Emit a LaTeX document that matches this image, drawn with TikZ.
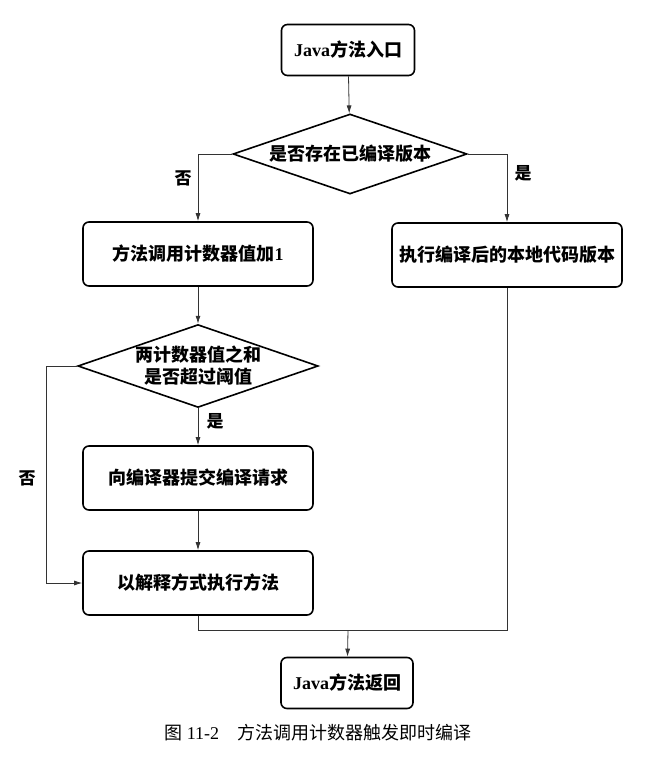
\documentclass[tikz,border=0pt]{standalone}
\usepackage{fontspec}
\setmainfont{Liberation Serif}
\newfontfamily\cjk{Noto Sans CJK SC}
\usetikzlibrary{shapes.geometric,arrows.meta}

\begin{document}
\begin{tikzpicture}[x=1pt,y=-1pt,font=\cjk\bfseries\fontsize{18}{22}\selectfont,>={Latex[length=8pt,width=5pt]},
	box/.style={draw,line width=1.6pt,rounded corners=6pt,minimum width=230pt,minimum height=64pt,inner sep=0pt},
	smallbox/.style={box,minimum width=133pt,minimum height=51pt},
	decision/.style={draw,diamond,line width=1.6pt,minimum width=234pt,minimum height=80pt,inner sep=0pt,aspect=2.9,align=center},
	link/.style={->,line width=0.8pt,draw=black!80},
	lbl/.style={font=\cjk\bfseries\fontsize{17}{20}\selectfont}]
	%canvas
	\useasboundingbox[fill=white] (0,0) rectangle (650,759);

	%boxes
	\node[smallbox] (entry) at (348,50) {{\rmfamily Java}方法入口};
	\node[decision] (compiled) at (350,154) {是否存在已编译版本};
	\node[box] (count) at (198,254) {方法调用计数器值加{\rmfamily 1}};
	\node[box] (native) at (507,255) {执行编译后的本地代码版本};
	\node[decision] (limit) at (198,366) {两计数器值之和\\是否超过阈值};
	\node[box] (submit) at (198,478) {向编译器提交编译请求};
	\node[box] (interp) at (198,583) {以解释方式执行方法};
	\node[smallbox,minimum width=132pt] (return) at (347,683) {{\rmfamily Java}方法返回};

	%helper points
	\coordinate (nopath) at (46,366); %left detour
	\coordinate (merge) at (348,630); %join of both ends

	%connectors
	\draw[link] (entry) -- (compiled);
	\draw[link] (compiled.west) -| (count.north); %no compiled version
	\draw[link] (compiled.east) -| (native.north); %compiled version
	\draw[link] (count) -- (limit);
	\draw[link] (limit) -- (submit);
	\draw[link] (limit.west) -- (nopath) |- (interp.west); %below threshold
	\draw[link] (submit) -- (interp);
	\draw[line width=0.8pt,draw=black!80] (interp.south) |- (merge);
	\draw[line width=0.8pt,draw=black!80] (native.south) |- (merge);
	\draw[link] (merge) -- (return);

	%labels
	\node[lbl] (no1) at (183,178) {否};
	\node[lbl] (yes1) at (523,173) {是};
	\node[lbl] (yes2) at (215,421) {是};
	\node[lbl] (no2) at (27,478) {否};

	%caption
	\node[font=\cjk\fontsize{18}{22}\selectfont] (caption) at (318,733) {图 {\rmfamily 11-2}\quad 方法调用计数器触发即时编译};
\end{tikzpicture}
\end{document}
